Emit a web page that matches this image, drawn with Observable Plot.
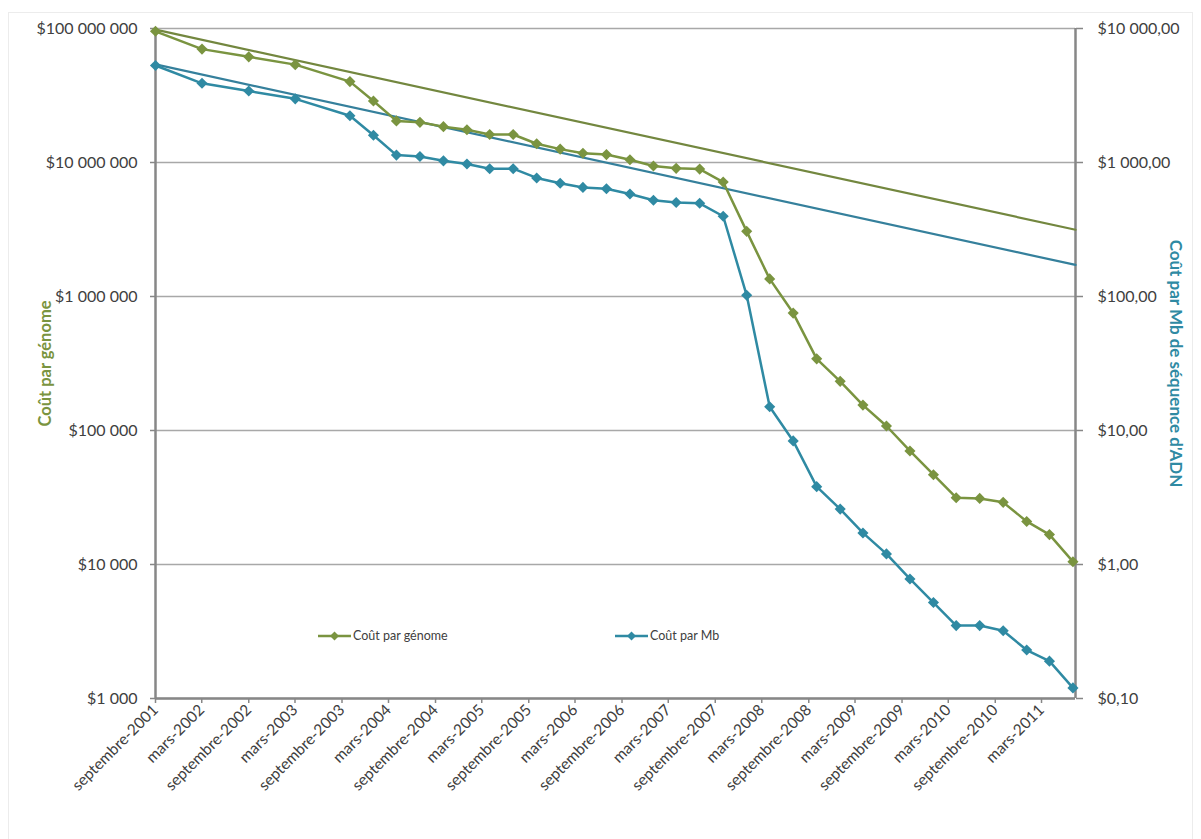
<!DOCTYPE html>
<html><head><meta charset="utf-8">
<script src="https://cdn.jsdelivr.net/npm/d3@7"></script>
<script src="https://cdn.jsdelivr.net/npm/@observablehq/plot@0.6"></script>
<style>
body{margin:0;background:#fff;}
#wrap{position:relative;width:1201px;height:839px;font-family:Lato,"Open Sans",sans-serif;overflow:hidden;}
#frame{position:absolute;left:8px;top:12px;width:1185px;height:828px;border:1px solid #ececec;box-sizing:border-box;}
#chart{position:absolute;left:0;top:0;}
.leg{position:absolute;top:628px;display:flex;align-items:center;font-size:12.5px;color:#404040;}
.leg svg{margin-right:2px;}
</style></head><body>
<div id="wrap"><div id="frame"></div><div id="chart"></div>
<div class="leg" style="left:318px"><svg width="33" height="12"><line x1="0" y1="6" x2="33" y2="6" stroke="#7a9440" stroke-width="2.5"/><path d="M16.5 1.5 L21 6 L16.5 10.5 L12 6 Z" fill="#7a9440"/></svg>Coût par génome</div>
<div class="leg" style="left:615px"><svg width="33" height="12"><line x1="0" y1="6" x2="33" y2="6" stroke="#2f8aa3" stroke-width="2.5"/><path d="M16.5 1.5 L21 6 L16.5 10.5 L12 6 Z" fill="#2f8aa3"/></svg>Coût par Mb</div>
</div>
<script>
// ---- data ----
const dates = ["2001-09-30","2002-03-31","2002-09-30","2003-03-31","2003-10-31","2004-01-31","2004-04-30","2004-07-31","2004-10-31","2005-01-31","2005-04-30","2005-07-31","2005-10-31","2006-01-31","2006-04-30","2006-07-31","2006-10-31","2007-01-31","2007-04-30","2007-07-31","2007-10-31","2008-01-31","2008-04-30","2008-07-31","2008-10-31","2009-01-31","2009-04-30","2009-07-31","2009-10-31","2010-01-31","2010-04-30","2010-07-31","2010-10-31","2011-01-31","2011-04-30","2011-07-31"];
const costPerGenome = [95263072,70175437,61448422,53751684,40157554,28780376,20442576,19934346,18519312,17534970,16159699,16180224,13801124,12585659,11732535,11455315,10474556,9408739,9047003,8927342,7147571,3063820,1352982,752080,342502,232735,154714,108065,70333,46774,31512,31125,29092,20963,16712,10497];
const costPerMb = [5292.39,3898.64,3413.80,2986.20,2230.98,1598.91,1135.70,1107.46,1028.85,974.16,897.76,898.90,766.73,699.20,651.81,636.41,581.92,522.71,502.61,495.96,397.09,102.13,15.03,8.36,3.81,2.59,1.72,1.20,0.78,0.52,0.35,0.35,0.32,0.23,0.19,0.12];
const trendDates = ["2001-09-30","2011-08-10"];
const trendGenome = [98000000, 3150000];
const trendMb = [5400, 172];
const xTickDates = ["2001-09-30","2002-03-30","2002-09-30","2003-03-30","2003-09-30","2004-03-30","2004-09-30","2005-03-30","2005-09-30","2006-03-30","2006-09-30","2007-03-30","2007-09-30","2008-03-30","2008-09-30","2009-03-30","2009-09-30","2010-03-30","2010-09-30","2011-03-30"];
const xTickLabels = ["septembre-2001","mars-2002","septembre-2002","mars-2003","septembre-2003","mars-2004","septembre-2004","mars-2005","septembre-2005","mars-2006","septembre-2006","mars-2007","septembre-2007","mars-2008","septembre-2008","mars-2009","septembre-2009","mars-2010","septembre-2010","mars-2011"];
const yTicks = [1e3,1e4,1e5,1e6,1e7,1e8];
const mbScale = 10000; // right axis = left axis / 10 000
const xDomain = ["2001-09-30","2011-08-10"];

// ---- build ----
const green="#7a9440", teal="#2f8aa3", trendGreen="#73873f", trendTeal="#35809c";
const P = s => new Date(s+"T00:00:00Z");
const rows = dates.map((d,i)=>({date:P(d), genome:costPerGenome[i], mb:costPerMb[i]}));
const trendG = trendDates.map((d,i)=>({date:P(d), v:trendGenome[i]}));
const trendM = trendDates.map((d,i)=>({date:P(d), v:trendMb[i]}));
const xTicks = xTickDates.map(P);
const labelMap = new Map(xTicks.map((d,i)=>[+d, xTickLabels[i]]));
const locL = d3.formatLocale({decimal:",",thousands:" ",grouping:[3],currency:["$",""]});
const fmtL = locL.format("$,.0f");
const fmtR = locL.format("$,.2f");
const axisColor="#878787";

const chart = Plot.plot({
  width:1201, height:839,
  marginLeft:155, marginRight:126, marginTop:28, marginBottom:141,
  style:{fontFamily:"Lato, 'Open Sans', sans-serif", fontSize:"16px", color:"#404040", background:"transparent", overflow:"visible"},
  x:{type:"utc", domain:xDomain.map(P)},
  y:{type:"log", domain:[1e3,1e8]},
  marks:[
    Plot.gridY(yTicks,{stroke:"#a8a8a8", strokeOpacity:1, strokeWidth:1.5}),
    Plot.axisY(yTicks,{anchor:"left", tickFormat:fmtL, tickSize:5, tickPadding:13, stroke:axisColor, strokeWidth:1.5, label:null, fontSize:16}),
    Plot.axisY(yTicks,{anchor:"right", tickFormat:d=>fmtR(d/mbScale), tickSize:7, tickPadding:15, stroke:axisColor, strokeWidth:1.5, label:null, fontSize:16}),
    Plot.axisX(xTicks,{tickFormat:d=>labelMap.get(+d), tickRotate:-45, tickSize:5, tickPadding:4, stroke:axisColor, strokeWidth:1.5, label:null, fontSize:15.5}),
    Plot.ruleX(xDomain.map(P),{stroke:axisColor, strokeWidth:2.5}),
    Plot.ruleY([1e3],{stroke:axisColor, strokeWidth:2.5}),
    Plot.line(trendG,{x:"date", y:"v", stroke:trendGreen, strokeWidth:2.2}),
    Plot.line(trendM,{x:"date", y:d=>d.v*mbScale, stroke:trendTeal, strokeWidth:2.2}),
    Plot.line(rows,{x:"date", y:"genome", stroke:green, strokeWidth:2.5}),
    Plot.dot(rows,{x:"date", y:"genome", symbol:"diamond2", r:5, fill:green, stroke:null}),
    Plot.line(rows,{x:"date", y:d=>d.mb*mbScale, stroke:teal, strokeWidth:2.5}),
    Plot.dot(rows,{x:"date", y:d=>d.mb*mbScale, symbol:"diamond2", r:5, fill:teal, stroke:null}),
    Plot.text(["Coût par génome"],{frameAnchor:"left", dx:-110, rotate:-90, textAnchor:"middle", fill:green, fontWeight:"bold", fontSize:16.5}),
    Plot.text(["Coût par Mb de séquence d'ADN"],{frameAnchor:"right", dx:100, dy:0, rotate:90, textAnchor:"middle", fill:teal, fontWeight:"bold", fontSize:17})
  ]
});
document.getElementById("chart").appendChild(chart);
</script>
</body></html>
